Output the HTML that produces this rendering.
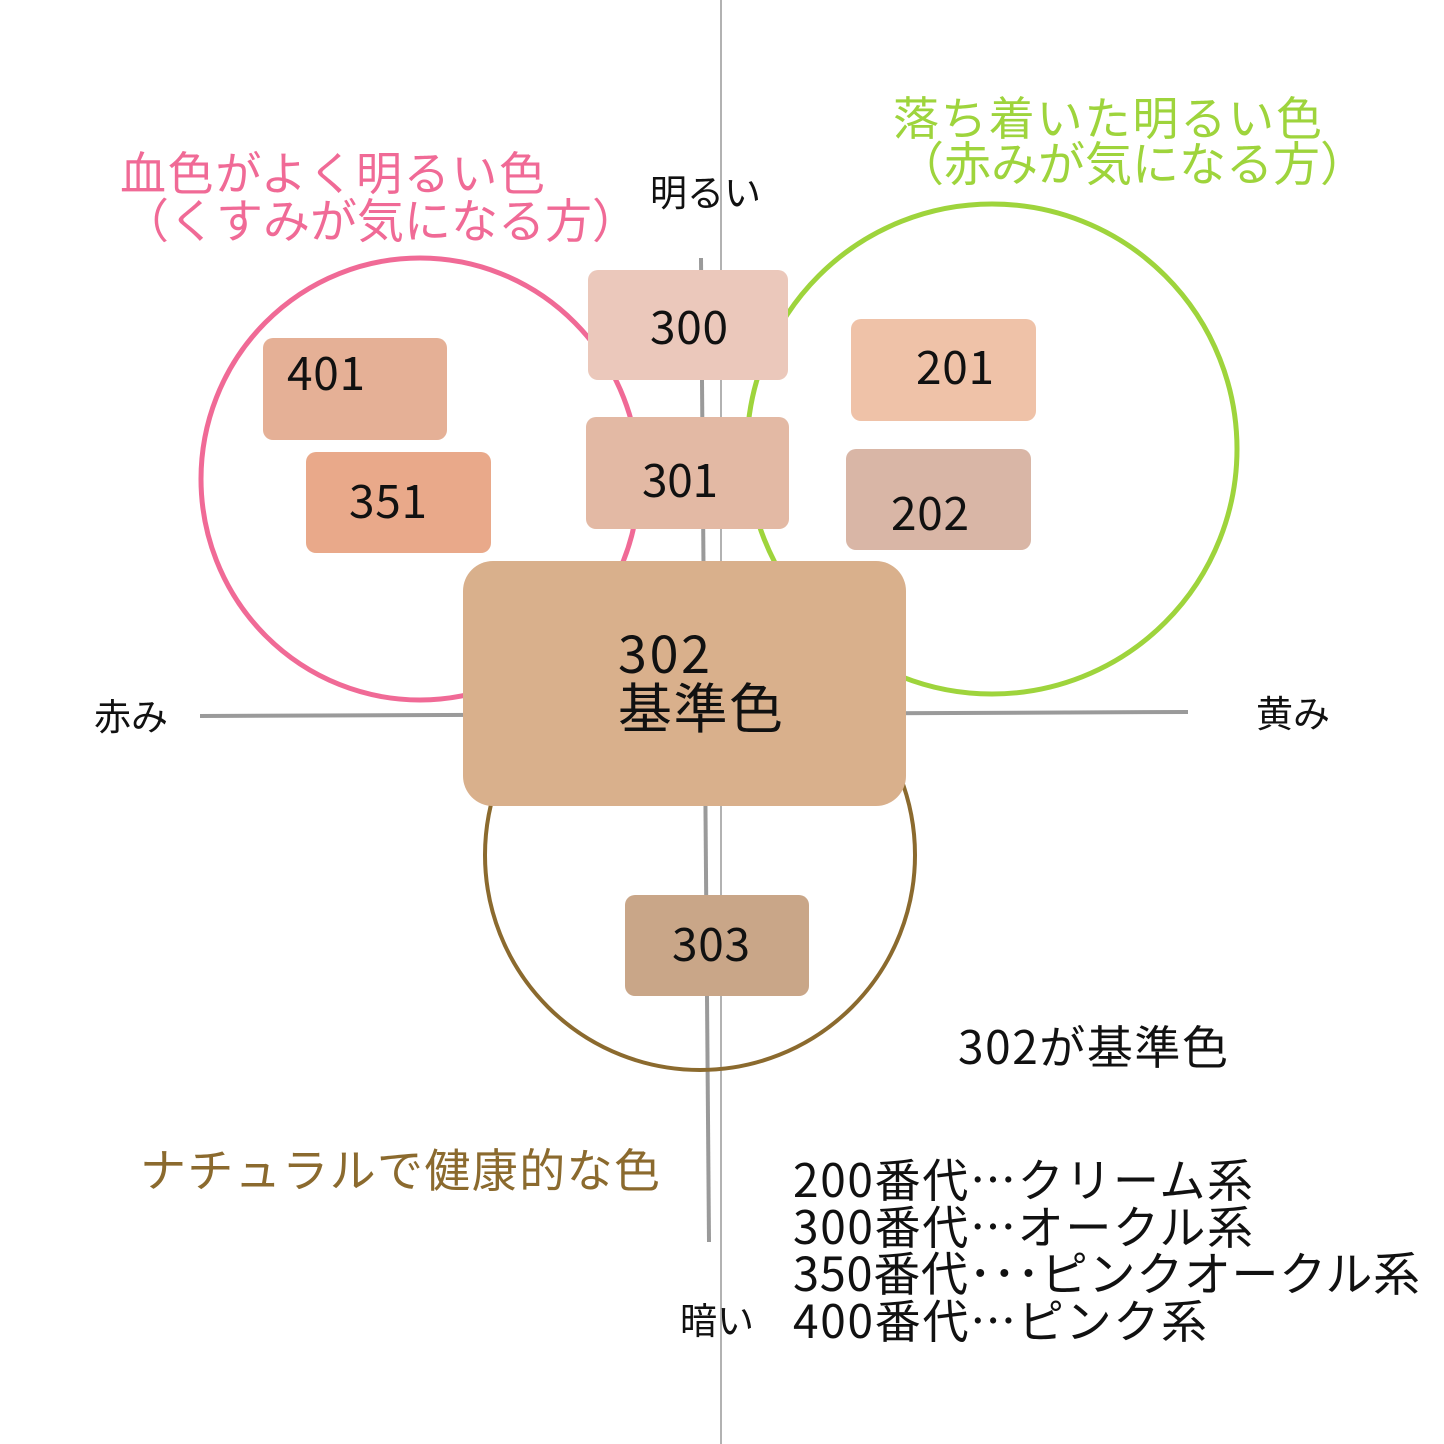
<!DOCTYPE html>
<html><head><meta charset="utf-8"><style>
html,body{margin:0;padding:0;background:#fff;}
svg{display:block;}
text{font-family:"Noto Sans CJK JP","Liberation Sans",sans-serif;}
</style></head><body>
<svg width="1444" height="1444" viewBox="0 0 1444 1444" xmlns="http://www.w3.org/2000/svg">
<rect width="1444" height="1444" fill="#fff"/>
<line x1="721" y1="0" x2="721" y2="1444" stroke="#999" stroke-width="1.5"/>
<line x1="701" y1="258" x2="709" y2="1242" stroke="#9a9a9a" stroke-width="4"/>
<line x1="200" y1="716" x2="1188" y2="712" stroke="#9a9a9a" stroke-width="4"/>
<ellipse cx="420" cy="479" rx="219" ry="221" fill="none" stroke="#f06a96" stroke-width="5"/>
<ellipse cx="992" cy="449" rx="245" ry="245" fill="none" stroke="#9ed43c" stroke-width="5"/>
<ellipse cx="700" cy="855" rx="215" ry="215" fill="none" stroke="#8b6a2e" stroke-width="4"/>
<rect x="588" y="270" width="200" height="110" rx="10" fill="#ebc8bb"/>
<rect x="263" y="338" width="184" height="102" rx="10" fill="#e5b096"/>
<rect x="306" y="452" width="185" height="101" rx="10" fill="#e9a98a"/>
<rect x="586" y="417" width="203" height="112" rx="10" fill="#e3b9a4"/>
<rect x="851" y="319" width="185" height="102" rx="10" fill="#efc2a8"/>
<rect x="846" y="449" width="185" height="101" rx="10" fill="#d9b6a6"/>
<rect x="463" y="561" width="443" height="245" rx="30" fill="#d9b08c"/>
<rect x="625" y="895" width="184" height="101" rx="10" fill="#c9a688"/>
<g font-size="46" fill="#111">
<text x="650" y="344" textLength="78">300</text>
<text x="287" y="390" textLength="78">401</text>
<text x="349" y="518" textLength="78">351</text>
<text x="642" y="497" textLength="76">301</text>
<text x="916" y="384" textLength="78">201</text>
<text x="891" y="530" textLength="78">202</text>
<text x="672" y="961" textLength="78">303</text>
</g>
<text x="618" y="673" font-size="52" fill="#111" textLength="92">302</text>
<text x="618" y="728" font-size="54" fill="#111" textLength="165">基準色</text>
<g font-size="46" fill="#f06a96">
<text x="120" y="190" textLength="425">血色がよく明るい色</text>
<text x="122" y="238" font-size="47">（くすみが気になる方）</text>
</g>
<g font-size="46" fill="#9ed43c">
<text x="893" y="135" textLength="429">落ち着いた明るい色</text>
<text x="897" y="181" font-size="47">（赤みが気になる方）</text>
</g>
<text x="140" y="1187" font-size="46" fill="#8b6a2e" textLength="520">ナチュラルで健康的な色</text>
<g font-size="37" fill="#111">
<text x="650" y="206">明るい</text>
<text x="94" y="730">赤み</text>
<text x="1256" y="727">黄み</text>
<text x="680" y="1334">暗い</text>
</g>
<g font-size="46" fill="#111">
<text x="958" y="1064" textLength="270">302が基準色</text>
<text x="793" y="1197" textLength="460">200番代…クリーム系</text>
<text x="793" y="1244" textLength="460">300番代…オークル系</text>
<text x="793" y="1291" font-size="47" textLength="627">350番代･･･ピンクオークル系</text>
<text x="793" y="1338" textLength="414">400番代…ピンク系</text>
</g>
</svg>
</body></html>
